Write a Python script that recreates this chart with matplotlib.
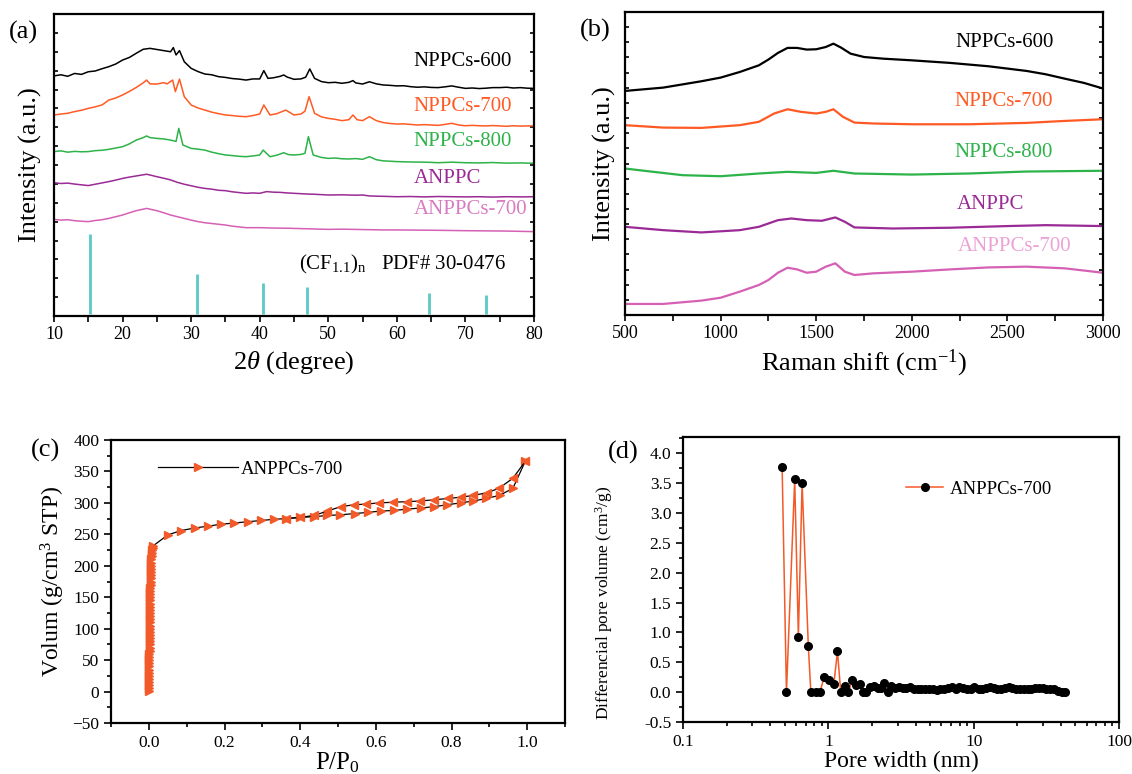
import numpy as np
import matplotlib
matplotlib.use("Agg")
import matplotlib.pyplot as plt
from matplotlib.ticker import MultipleLocator, NullFormatter, LogLocator, FixedLocator, FormatStrFormatter

plt.rcParams['font.family'] = ['Liberation Serif', 'DejaVu Serif']
plt.rcParams['mathtext.fontset'] = 'custom'
plt.rcParams['mathtext.rm'] = 'Liberation Serif'
plt.rcParams['mathtext.it'] = 'Liberation Serif:italic'
plt.rcParams['axes.linewidth'] = 1.6

# ==== (a) XRD, offset units (0-16) ====
xrd600_x = [10, 11, 12, 13, 14, 15, 16, 17, 18, 19, 20, 21, 22, 23, 24, 25, 26, 27, 27.4, 27.8, 28.3, 29, 30,
            31, 32, 33, 34, 35, 36, 37, 38, 39, 40, 40.6, 41.2, 42, 43, 43.5, 44, 45, 46, 46.7, 47.3, 48, 49,
            50, 51, 52, 53, 53.6, 54, 55, 56, 57, 58, 59, 60, 61, 62, 63, 64, 65, 66, 67, 68, 69, 70, 71, 72,
            73, 74, 75, 76, 77, 78, 79, 80]
xrd600_y = [12.72, 12.78, 12.70, 12.85, 12.80, 12.94, 12.98, 13.10, 13.21, 13.35, 13.56, 13.70, 13.92, 14.13,
            14.18, 14.12, 14.06, 14.00, 14.22, 13.83, 14.06, 13.47, 13.12, 12.95, 12.82, 12.78, 12.68, 12.64,
            12.58, 12.55, 12.50, 12.56, 12.56, 13.00, 12.59, 12.62, 12.70, 12.77, 12.66, 12.54, 12.56, 12.65,
            13.09, 12.59, 12.42, 12.36, 12.38, 12.33, 12.38, 12.47, 12.35, 12.29, 12.41, 12.30, 12.24, 12.22,
            12.19, 12.20, 12.15, 12.12, 12.14, 12.11, 12.10, 12.14, 12.19, 12.12, 12.06, 12.08, 12.05, 12.07,
            12.10, 12.10, 12.12, 12.08, 12.10, 12.07, 12.06]

xrd700_x = [10, 11, 12, 13, 14, 15, 16, 17, 18, 19, 20, 21, 22, 23, 23.5, 24, 25, 26, 26.5, 27.3, 27.7, 28.3,
            29, 30, 31, 32, 33, 34, 35, 36, 37, 38, 39, 40, 40.6, 41.5, 42.5, 43.8, 45, 46, 46.6, 47.2, 48, 49,
            50, 51, 52, 53, 53.6, 54.2, 55, 56, 57, 58, 59, 60, 61, 62, 63, 64, 65, 66, 67, 68, 69, 70, 71, 72,
            73, 74, 75, 76, 77, 78, 79, 80]
xrd700_y = [10.65, 10.70, 10.74, 10.83, 10.90, 11.00, 11.08, 11.18, 11.44, 11.55, 11.71, 11.90, 12.11, 12.35,
            12.50, 12.30, 12.29, 12.36, 12.30, 12.50, 11.89, 12.55, 11.62, 11.18, 11.02, 10.91, 10.80, 10.72,
            10.65, 10.62, 10.58, 10.56, 10.62, 10.70, 11.18, 10.65, 10.72, 10.91, 10.65, 10.70, 10.85, 11.62,
            10.74, 10.55, 10.47, 10.42, 10.35, 10.40, 10.65, 10.40, 10.35, 10.56, 10.35, 10.25, 10.20, 10.17,
            10.18, 10.15, 10.12, 10.14, 10.12, 10.10, 10.15, 10.21, 10.12, 10.08, 10.10, 10.08, 10.07, 10.09,
            10.07, 10.05, 10.08, 10.06, 10.07, 10.07]

xrd800_x = [10, 11, 12, 13, 14, 15, 16, 17, 18, 19, 20, 21, 22, 23, 23.5, 24, 25, 26, 27, 27.8, 28.2, 28.8,
            30, 31, 32, 33, 34, 35, 36, 37, 38, 39, 40, 40.5, 41.5, 42.5, 43.5, 44.2, 45, 46, 46.6, 47.1, 47.8,
            49, 50, 51, 52, 53, 54, 55, 56, 57, 58, 59, 60, 62, 64, 65, 66, 68, 70, 72, 74, 76, 78, 80]
xrd800_y = [8.71, 8.75, 8.68, 8.72, 8.70, 8.71, 8.76, 8.78, 8.83, 8.90, 8.97, 9.12, 9.32, 9.45, 9.54, 9.45,
            9.41, 9.38, 9.32, 9.25, 9.94, 9.06, 8.88, 8.84, 8.79, 8.68, 8.60, 8.53, 8.50, 8.46, 8.44, 8.48,
            8.53, 8.79, 8.44, 8.52, 8.65, 8.55, 8.53, 8.56, 8.62, 9.50, 8.53, 8.40, 8.35, 8.37, 8.33, 8.32,
            8.34, 8.30, 8.44, 8.28, 8.22, 8.20, 8.18, 8.16, 8.15, 8.14, 8.12, 8.15, 8.12, 8.11, 8.13, 8.10,
            8.11, 8.09]

anppc_x = [10, 11, 12, 13, 14, 15, 16, 17, 18, 19, 20, 21, 22, 23, 23.5, 24, 25, 26, 27, 28, 29, 30, 31, 32,
           33, 34, 35, 36, 37, 38, 39, 40, 41, 42, 43, 44, 45, 46, 47, 48, 50, 52, 54, 55, 56, 58, 60, 62, 64,
           66, 68, 70, 72, 74, 76, 78, 80]
anppc_y = [7.06, 7.02, 7.04, 6.99, 6.95, 6.91, 6.98, 7.05, 7.12, 7.20, 7.29, 7.36, 7.42, 7.48, 7.51, 7.47,
           7.38, 7.30, 7.21, 7.08, 6.98, 6.90, 6.82, 6.76, 6.72, 6.66, 6.64, 6.58, 6.54, 6.50, 6.52, 6.50,
           6.59, 6.56, 6.55, 6.52, 6.50, 6.48, 6.46, 6.45, 6.41, 6.42, 6.40, 6.41, 6.36, 6.34, 6.32, 6.33,
           6.31, 6.33, 6.32, 6.31, 6.32, 6.30, 6.32, 6.31, 6.32]

anppc700_x = [10, 11, 12, 13, 14, 15, 16, 17, 18, 19, 20, 21, 22, 23, 23.5, 24, 25, 26, 27, 28, 29, 30, 31,
              32, 33, 34, 35, 36, 37, 38, 40, 42, 44, 45, 47, 50, 52, 55, 58, 60, 63, 66, 70, 73, 76, 80]
anppc700_y = [5.12, 5.08, 5.10, 5.05, 5.02, 5.00, 5.06, 5.10, 5.17, 5.26, 5.35, 5.47, 5.58, 5.66, 5.70, 5.66,
              5.58, 5.47, 5.35, 5.26, 5.17, 5.08, 5.00, 4.94, 4.90, 4.86, 4.82, 4.76, 4.72, 4.68, 4.68, 4.66,
              4.65, 4.64, 4.62, 4.59, 4.60, 4.58, 4.56, 4.56, 4.55, 4.54, 4.52, 4.51, 4.50, 4.47]

pdf_pos = [15.26, 30.84, 40.43, 46.9, 64.66, 73.05]
pdf_height = [4.32, 2.22, 1.76, 1.55, 1.20, 1.12]

# ==== (b) Raman, offset units (0-20) ====
raman600_x = [500, 700, 900, 1000, 1100, 1200, 1250, 1300, 1350, 1400, 1450, 1500, 1550, 1590, 1630, 1680,
              1750, 1850, 2000, 2200, 2400, 2600, 2700, 2800, 2900, 3000]
raman600_y = [14.79, 15.01, 15.43, 15.67, 16.04, 16.48, 16.86, 17.30, 17.63, 17.63, 17.52, 17.54, 17.69,
              17.91, 17.65, 17.25, 17.03, 16.92, 16.81, 16.64, 16.42, 16.11, 15.89, 15.60, 15.32, 14.95]
raman700_x = [500, 700, 900, 1100, 1200, 1280, 1350, 1420, 1500, 1550, 1590, 1640, 1700, 1800, 2000, 2300,
              2600, 2800, 3000]
raman700_y = [12.53, 12.37, 12.35, 12.53, 12.75, 13.30, 13.58, 13.41, 13.30, 13.41, 13.58, 13.08, 12.70,
              12.64, 12.59, 12.59, 12.68, 12.81, 12.92]
raman800_x = [500, 600, 800, 1000, 1200, 1350, 1500, 1590, 1700, 2000, 2300, 2600, 3000]
raman800_y = [9.67, 9.52, 9.23, 9.16, 9.34, 9.45, 9.38, 9.52, 9.34, 9.27, 9.34, 9.47, 9.52]
ramanA_x = [500, 700, 900, 1100, 1200, 1300, 1370, 1450, 1530, 1600, 1650, 1700, 1900, 2200, 2500, 2700, 3000]
ramanA_y = [5.82, 5.60, 5.45, 5.60, 5.82, 6.26, 6.37, 6.26, 6.22, 6.44, 6.15, 5.78, 5.71, 5.76, 5.87, 5.93, 5.87]
ramanA700_x = [500, 700, 900, 1000, 1100, 1200, 1250, 1300, 1350, 1400, 1450, 1500, 1550, 1600, 1650, 1700,
               1800, 2000, 2200, 2400, 2600, 2800, 3000]
ramanA700_y = [0.73, 0.73, 0.95, 1.14, 1.54, 1.98, 2.31, 2.79, 3.12, 3.01, 2.79, 2.86, 3.19, 3.41, 2.86, 2.64,
               2.75, 2.86, 3.01, 3.14, 3.19, 3.08, 2.79]

# ==== (c) N2 isotherm ====
p_ads = [0.0003, 0.0005, 0.0007, 0.0008, 0.0009, 0.0010, 0.0011, 0.0012, 0.0013, 0.0014, 0.0015, 0.0016,
         0.0017, 0.0018, 0.0019, 0.0020, 0.0021, 0.0022, 0.0023, 0.0024, 0.0025, 0.0026, 0.0027, 0.0028,
         0.0029, 0.0030, 0.0031, 0.0032, 0.0034, 0.0036, 0.0038, 0.0040, 0.0042, 0.0044, 0.0046, 0.0048,
         0.0050, 0.0053, 0.0056, 0.0059, 0.0062, 0.0066, 0.0070, 0.0075, 0.0082, 0.0090, 0.0102, 0.0120,
         0.050, 0.085, 0.121, 0.156, 0.190, 0.226, 0.261, 0.297, 0.332, 0.363, 0.400, 0.437,
         0.472, 0.505, 0.544, 0.580, 0.613, 0.649, 0.682, 0.720, 0.755, 0.788, 0.824, 0.858, 0.892, 0.927,
         0.962, 0.995]
v_ads = [1, 5, 10, 15, 20, 25, 30, 35, 40, 45, 50, 55, 60, 65, 70, 75, 80, 85, 90, 95, 100, 105, 110, 115,
         120, 125, 130, 135, 140, 145, 150, 155, 160, 165, 170, 175, 180, 185, 190, 195, 200, 205, 210, 215,
         220, 225, 229, 232,
         249, 256, 260, 263, 266, 268, 270, 272, 274, 275, 277, 278, 280, 281, 283, 285,
         287, 288, 290, 292, 294, 297, 300, 303, 307, 312, 323, 366]
p_des = [0.995, 0.962, 0.925, 0.893, 0.858, 0.825, 0.790, 0.755, 0.717, 0.682, 0.646, 0.608, 0.573, 0.542,
         0.507, 0.472, 0.437, 0.400, 0.363]
v_des = [366, 339, 323, 316, 312, 309, 307, 305, 303, 302, 301, 300, 298, 297, 294, 287, 280, 277, 275]

# ==== (d) pore size distribution ====
pore_w = [0.481, 0.515, 0.587, 0.622, 0.660, 0.728, 0.758, 0.817, 0.875, 0.938, 1.01, 1.09, 1.156, 1.217,
          1.297, 1.374, 1.463, 1.54, 1.65, 1.74, 1.83, 1.94, 2.06, 2.18, 2.31, 2.42, 2.56, 2.71, 2.88,
          3.05, 3.24, 3.44, 3.65, 3.88, 4.12, 4.37, 4.64, 4.93, 5.24, 5.56, 5.90, 6.27, 6.66, 7.07, 7.51,
          7.97, 8.47, 8.99, 9.55, 10.1, 10.8, 11.4, 12.1, 12.9, 13.7, 14.5, 15.4, 16.4, 17.4, 18.5, 19.6,
          20.8, 22.1, 23.5, 24.9, 26.5, 28.1, 29.9, 31.7, 33.7, 35.8, 38.0, 40.3, 42.8]
pore_dv = [3.76, 0, 3.56, 0.93, 3.50, 0.78, 0, 0, 0, 0.26, 0.20, 0.13, 0.68, 0, 0.11, 0, 0.20, 0.12, 0.13,
           0, 0, 0.08, 0.11, 0.07, 0.07, 0.15, 0.01, 0.10, 0.07,
           0.08, 0.07, 0.07, 0.08, 0.06, 0.05, 0.06, 0.06, 0.05, 0.05, 0.04, 0.05, 0.06, 0.07, 0.08, 0.06,
           0.08, 0.07, 0.06, 0.06, 0.08, 0.06, 0.05, 0.07, 0.08, 0.07, 0.06, 0.06, 0.07, 0.08, 0.07, 0.05,
           0.05, 0.06, 0.06, 0.06, 0.07, 0.07, 0.07, 0.06, 0.05, 0.05, 0.02, 0.01, 0.01]

c_black, c_orange, c_green, c_purple, c_pink = '#000000', '#ff5a24', '#2db34a', '#9a2a96', '#d660b4'
c_mark = '#f25a29'

W, H = 1132, 774
fig = plt.figure(figsize=(W / 100, H / 100), dpi=100)

def box(l, t, r, b):
    return [l / W, 1 - b / H, (r - l) / W, (b - t) / H]

# ---- (a) ----
ax = fig.add_axes(box(54, 14, 534, 316))
for x, y, c in [(xrd600_x, xrd600_y, c_black), (xrd700_x, xrd700_y, c_orange), (xrd800_x, xrd800_y, c_green),
                (anppc_x, anppc_y, c_purple), (anppc700_x, anppc700_y, c_pink)]:
    ax.plot(x, y, color=c, lw=1.1)
ax.vlines(pdf_pos, 0.12, pdf_height, color='#5cc8c8', lw=2)
labs = [('NPPCs-600', 13.47, c_black), ('NPPCs-700', 11.09, c_orange), ('NPPCs-800', 9.23, c_green),
        ('ANPPC', 7.26, c_purple), ('ANPPCs-700', 5.62, '#d87cc2')]
for t, y, c in labs:
    ax.text(62.4, y, t, color=c, fontsize=15, va='center')
ax.text(45.7, 2.72, r'(CF$_{1.1}$)$_{\rm n}$   PDF# 30-0476', fontsize=15, va='center')
ax.set_xlim(10, 80)
ax.set_ylim(0, 16)
ax.xaxis.set_major_locator(MultipleLocator(10))
ax.xaxis.set_minor_locator(MultipleLocator(5))
ax.set_yticks(range(1, 16))
ax.set_yticklabels([])
ax.tick_params(axis='x', which='both', direction='out', top=False, labelsize=13, length=4, width=1.2)
ax.tick_params(axis='y', which='both', direction='in', right=True, length=3, width=1.2)
ax.set_xlabel(r'2$\theta$ (degree)', fontsize=19, labelpad=4)
ax.set_ylabel('Intensity (a.u.)', fontsize=19, labelpad=5)

# ---- (b) ----
ax = fig.add_axes(box(625, 12, 1103, 315))
for x, y, c in [(raman600_x, raman600_y, c_black), (raman700_x, raman700_y, c_orange),
                (raman800_x, raman800_y, c_green), (ramanA_x, ramanA_y, c_purple),
                (ramanA700_x, ramanA700_y, c_pink)]:
    ax.plot(x, y, color=c, lw=1.6)
labs = [('NPPCs-600', 17.96, 2230, c_black), ('NPPCs-700', 14.06, 2224, c_orange),
        ('NPPCs-800', 10.7, 2224, c_green), ('ANPPC', 7.32, 2234, c_purple),
        ('ANPPCs-700', 4.5, 2242, '#eca2d6')]
for t, y, x, c in labs:
    ax.text(x, y, t, color=c, fontsize=15, va='center')
ax.set_xlim(500, 3000)
ax.set_ylim(0, 20)
ax.xaxis.set_major_locator(MultipleLocator(500))
ax.xaxis.set_minor_locator(MultipleLocator(250))
ax.set_yticks(range(1, 20))
ax.set_yticklabels([])
ax.tick_params(axis='x', which='both', direction='out', top=False, labelsize=13, length=4, width=1.2)
ax.tick_params(axis='y', which='both', direction='in', right=True, length=3, width=1.2)
ax.set_xlabel(r'Raman shift (cm$^{-1}$)', fontsize=19, labelpad=4)
ax.set_ylabel('Intensity (a.u.)', fontsize=19, labelpad=3)

# ---- (c) ----
ax = fig.add_axes(box(111, 440, 565, 723))
ax.plot(p_ads, v_ads, color='k', lw=0.9, marker='>', ms=5.5, mfc=c_mark, mec=c_mark, label='ANPPCs-700')
ax.plot(p_des, v_des, color='k', lw=0.9, marker='<', ms=5.5, mfc=c_mark, mec=c_mark)
ax.set_xlim(-0.1, 1.1)
ax.set_ylim(-50, 400)
ax.xaxis.set_major_locator(FixedLocator([0, 0.2, 0.4, 0.6, 0.8, 1.0]))
ax.xaxis.set_minor_locator(MultipleLocator(0.1))
ax.yaxis.set_major_locator(MultipleLocator(50))
ax.yaxis.set_minor_locator(MultipleLocator(25))
ax.tick_params(which='both', direction='out', labelsize=12.5, width=1.2)
ax.tick_params(which='major', length=5)
ax.tick_params(which='minor', length=3)
ax.set_xlabel(r'P/P$_0$', fontsize=18, labelpad=0)
ax.set_ylabel(r'Volum (g/cm$^3$ STP)', fontsize=17, labelpad=4)
ax.legend(loc='center left', bbox_to_anchor=(0.103, 0.896), frameon=False, fontsize=13.5,
          handlelength=4.3, handletextpad=0.15, borderpad=0, borderaxespad=0)

# ---- (d) ----
ax = fig.add_axes(box(683, 437, 1119, 722))
ax.plot(pore_w, pore_dv, color=c_mark, lw=1.1, marker='o', ms=5.5, mfc='k', mec='k', label='ANPPCs-700')
ax.set_xscale('log')
ax.set_xlim(0.1, 100)
ax.set_ylim(-0.5, 4.27)
ax.set_xticks([0.1, 1, 10, 100])
ax.set_xticklabels(['0.1', '1', '10', '100'])
ax.xaxis.set_minor_locator(LogLocator(base=10, subs=np.arange(2, 10)))
ax.xaxis.set_minor_formatter(NullFormatter())
ax.yaxis.set_major_locator(MultipleLocator(0.5))
ax.yaxis.set_minor_locator(MultipleLocator(0.25))
ax.yaxis.set_major_formatter(FormatStrFormatter('%.1f'))
ax.tick_params(which='both', direction='out', labelsize=12.5, width=1.2)
ax.tick_params(which='major', length=5)
ax.tick_params(which='minor', length=3)
ax.set_xlabel('Pore width (nm)', fontsize=17, labelpad=1)
ax.set_ylabel(r'Differencial pore volume (cm$^3$/g)', fontsize=12.5)
ax.yaxis.set_label_coords(-0.156, 0.418)
ax.legend(loc='center left', bbox_to_anchor=(0.511, 0.817), frameon=False, fontsize=13.5,
          handlelength=2.0, handletextpad=0.35, borderpad=0, borderaxespad=0)

# panel tags
for t, x, y in [('(a)', 9, 32), ('(b)', 580, 30), ('(c)', 31, 450), ('(d)', 608, 452)]:
    fig.text(x / W, 1 - y / H, t, fontsize=19, va='center', ha='left')

fig.savefig('out.png', dpi=100)
